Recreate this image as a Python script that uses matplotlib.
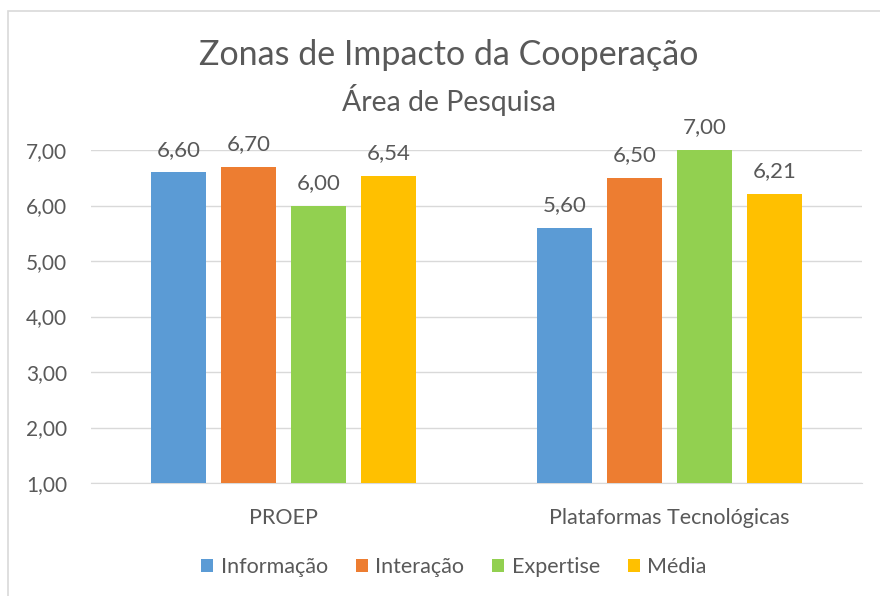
import matplotlib
matplotlib.use("Agg")
import matplotlib.pyplot as plt
import numpy as np
from matplotlib.patches import Rectangle

categories = ["PROEP", "Plataformas Tecnológicas"]
series = ["Informação", "Interação", "Expertise", "Média"]
informacao = [6.60, 5.60]
interacao = [6.70, 6.50]
expertise = [6.00, 7.00]
media = [6.54, 6.21]
colors = ["#5B9BD5", "#ED7D31", "#92D050", "#FFC000"]
y_ticks = [1, 2, 3, 4, 5, 6, 7]

plt.rcParams["font.family"] = ["Lato", "DejaVu Sans"]
text_color = "#595959"

W, H = 880, 596
fig = plt.figure(figsize=(W / 100, H / 100), dpi=100)

# chart frame (only top and left edges visible)
fig.patches.append(Rectangle((8 / W, -0.1), 1.2, 1 - 11 / H + 0.1, transform=fig.transFigure,
                             fill=False, edgecolor="#d9d9d9", linewidth=1.2))

ax = fig.add_axes([91 / W, 1 - 483 / H, (862 - 91) / W, (483 - 150) / H])

values = [informacao, interacao, expertise, media]
x = np.arange(len(categories))
width = 0.1427
step = 0.1816
for i, (name, vals) in enumerate(zip(series, values)):
    offs = (i - 1.5) * step
    bars = ax.bar(x + offs, np.array(vals) - 1, bottom=1, width=width, color=colors[i], label=name, zorder=3)
    for b, v in zip(bars, vals):
        ax.annotate(f"{v:.2f}".replace(".", ","), (b.get_x() + b.get_width() / 2, v),
                    xytext=(0, 9), textcoords="offset points", ha="center", va="bottom",
                    fontsize=16, color=text_color)

ax.set_xlim(-0.5, 1.5)
ax.set_ylim(1, 7)
ax.set_yticks(y_ticks)
ax.set_yticklabels([f"{t:.2f}".replace(".", ",") for t in y_ticks], fontsize=15, color=text_color)
ax.set_xticks(x)
ax.set_xticklabels(categories, fontsize=15.5, color=text_color)
ax.tick_params(axis="both", length=0)
ax.tick_params(axis="y", pad=17)
ax.tick_params(axis="x", pad=18)
ax.grid(axis="y", color="#d9d9d9", linewidth=1, zorder=0)
for s in ["top", "right", "left"]:
    ax.spines[s].set_visible(False)
ax.spines["bottom"].set_color("#d9d9d9")

fig.text(449 / W, 1 - 55 / H, "Zonas de Impacto da Cooperação", ha="center", va="center",
         fontsize=24.5, color=text_color)
fig.text(449 / W, 1 - 100 / H, "Área de Pesquisa", ha="center", va="center",
         fontsize=20.5, color=text_color)

leg = fig.legend(loc="center", bbox_to_anchor=(454 / W, 1 - 567 / H), ncol=4, frameon=False,
                 fontsize=15.5, handlelength=0.55, handleheight=0.55, handletextpad=0.35, columnspacing=1.3)
for t in leg.get_texts():
    t.set_color(text_color)

fig.savefig("out.png", dpi=100)
